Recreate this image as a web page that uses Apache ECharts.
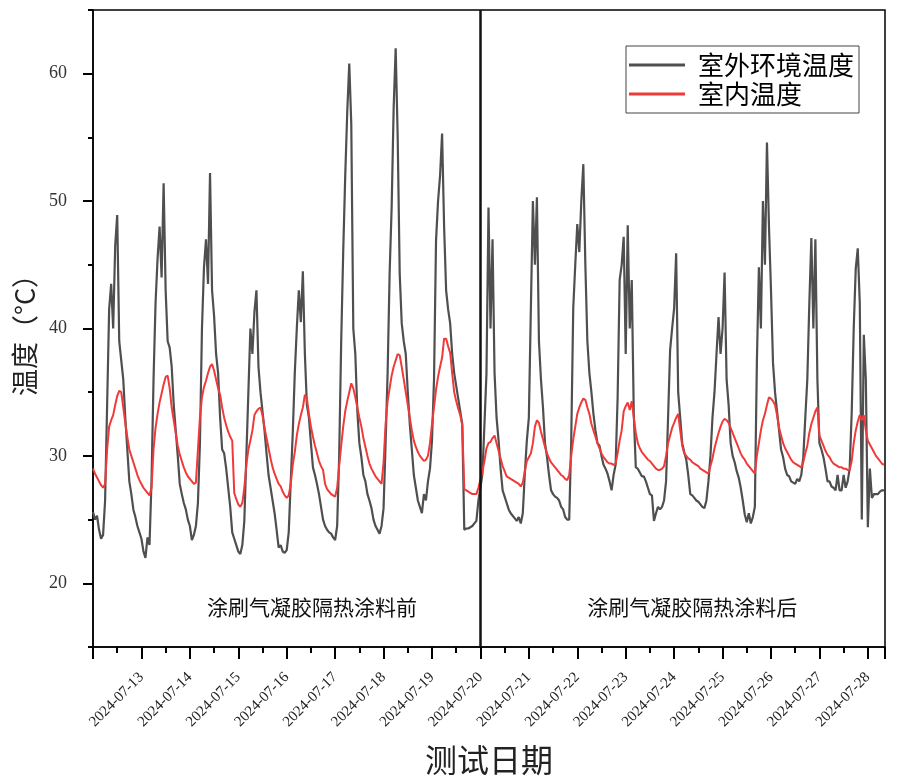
<!DOCTYPE html>
<html><head><meta charset="utf-8">
<script src="https://cdn.jsdelivr.net/npm/echarts@6/dist/echarts.min.js"></script>
<style>html,body{margin:0;padding:0;background:#fff}#c{width:912px;height:783px}</style>
</head><body><div id="c"></div>
<script>
// hourly readings starting 2024-07-12 00:00
const startDate = '2024-07-12T00:00:00Z';
const endDate = '2024-07-28T08:30:00Z';
const splitDate = '2024-07-20T00:00:00Z';
const seriesNames = ['室外环境温度', '室内温度'];
const yTicks = [20, 30, 40, 50, 60];
const outdoor = [
 25.6,25.0,25.3,24.2,23.5,23.8,26.5,34,41.5,43.5,40,46.5,48.9,39,37.5,36,33,30.5,28,27,25.8,25.2,24.5,24.0,
 23.5,22.5,22.0,23.6,23.0,28,36,42,45.5,48,44,51.4,43,39,38.5,37,34,32,30,27.8,27.0,26.3,25.8,25.0,
 24.5,23.4,23.8,24.5,26.3,31,40,44.8,47,43.5,52.2,43,41,38,36.5,33,30.5,30.2,29,27.5,26,24,23.5,23,
 22.5,22.3,23.0,24.9,30,35,40,38,41.3,43,37,35,33.5,32,30.2,28.5,27.5,26.5,25.5,24.2,22.8,23.0,22.5,22.4,
 22.6,24.0,28,31.8,36.5,40,43,40.5,44.5,38,34,33,31,29.1,28.5,27.8,27,26,25,24.5,24.2,24,23.9,23.6,
 23.4,24.5,30,39,46,52,57,60.8,56,40,38,33.5,31,29.9,28.5,28,27,26.5,25.9,25,24.5,24.2,23.9,24.5,
 25.9,31,36.5,44.3,49.5,57.3,62.0,55,44.3,40.4,39,38,35,32.5,30.5,28.5,27.5,26.5,26,25.5,27,26.5,28,29,
 31.2,36,46.9,50,52,55.3,48,43,41.5,40.4,38,36.5,35.5,34.5,33.5,32.5,24.2,24.3,24.3,24.4,24.5,24.7,24.9,26.5,
 27.5,28.6,32.5,36.5,49.5,40,47,36.5,33,31.2,29,27.3,26.8,26.3,25.8,25.5,25.3,25.1,24.9,25.2,24.7,25.5,28.6,31.2,
 33,41.6,50,45,50.3,39,36,33.8,31,29.9,28.5,27.3,27,26.8,26.7,26.5,26,25.8,25.2,25.0,25.0,31.2,41.6,45,
 48.2,46,50,52.9,45,39,36.5,35,33.3,32,31,30.8,30,29.3,29,28.6,28,27.3,28.5,29.3,34.6,43.8,45,47.2,
 38,48.1,40,43.8,33.3,29.1,29,28.7,28.4,28.4,28,27.5,27,26.9,24.9,25.5,26,25.8,26,26.5,28,33,38.3,40,
 41.6,45.9,35,33,31,30.3,29.7,28.5,27,26.9,26.7,26.5,26.4,26.2,26,25.9,26.5,28,30,33,35,38,40.9,38,
 40,44.4,36,34,31,30,29.5,28.8,28.3,27.5,26.5,25.4,24.8,25.5,24.7,25.2,26,37.3,44.8,40,50,45,54.6,48,
 43,37.3,35,33.5,32,30.5,29.9,29,28.5,28.4,28,27.9,27.8,28.2,28,28.5,29.9,33,36,42,47.1,40,47,36,
 31,30.5,29.9,29,28,28,27.6,27.5,27.3,28.5,27.3,27.3,28.5,27.5,28,29,33.4,40,44.7,46.3,42,25,39.5,36,
 24.4,29,26.7,27,27,27,27.2,27.3,27.3
];
const indoor = [
 29.0,28.6,28.3,28.0,27.7,27.5,27.8,30.5,32.3,32.8,33.2,34,34.7,35.1,35.0,33.8,32.6,31.5,30.5,30.0,29.5,29.0,28.5,28.1,
 27.8,27.5,27.3,27.1,26.9,27.5,30.5,32.2,33.3,34.2,34.9,35.6,36.2,36.3,35.3,33.8,32.8,31.8,30.8,30.1,29.6,29.1,28.7,28.4,
 28.2,28.0,27.8,27.9,30.5,33,34.6,35.4,35.9,36.5,37.0,37.2,36.7,36.0,35.3,34.8,33.8,33.0,32.4,31.9,31.5,31.2,27.1,26.6,
 26.2,26.0,26.3,27.5,29.3,30.5,31.2,32.0,33.2,33.5,33.7,33.8,33.2,32.2,31.4,30.6,29.8,29.1,28.6,28.2,27.8,27.6,27.2,26.9,
 26.7,26.9,27.8,29.3,30.3,31.6,32.5,33.2,33.8,34.8,34.5,33.3,32.3,31.5,30.8,30.2,29.6,29.2,28.9,27.8,27.4,27.2,27.0,26.9,
 26.8,27.5,29.2,30.8,32.3,33.5,34.3,35.0,35.7,35.3,34.6,33.8,33.0,32.3,31.4,30.7,30.0,29.4,29.0,28.7,28.4,28.2,28.0,27.8,
 29.5,32.5,34.3,35.3,36.3,37.0,37.5,38.0,37.9,37.0,36.0,35.0,34.0,33.0,32.0,31.2,30.7,30.3,30.0,29.8,29.6,29.7,30.0,31.0,
 32.5,33.8,35.2,36.2,37.0,37.7,39.2,39.2,38.6,38.1,36.5,35.0,34.3,33.7,33.2,32.4,27.4,27.3,27.2,27.1,27.0,27.0,27.0,27.5,
 28.1,28.8,29.6,30.6,31.0,31.1,31.4,31.6,31.0,30.4,29.8,29.2,28.8,28.4,28.3,28.2,28.1,28.0,27.9,27.8,27.6,27.9,28.8,29.6,
 29.9,30.2,31.0,32.3,32.8,32.6,31.9,31.3,30.7,30.2,29.8,29.5,29.3,29.1,28.9,28.7,28.5,28.4,28.2,28.1,28.5,30.0,31.3,32.3,
 33.3,33.8,34.2,34.5,34.4,33.8,33.3,32.5,32.0,31.5,31.0,30.6,30.2,29.9,29.7,29.5,29.4,29.4,29.3,29.4,30.2,31.2,32.0,33.5,
 33.9,34.2,33.6,34.3,33.0,31.8,31.0,30.6,30.3,30.1,29.9,29.7,29.6,29.4,29.2,29.0,28.9,28.9,29.0,29.2,30.0,31.0,31.6,32.2,
 32.6,33.0,33.3,32.0,30.8,30.2,30.0,29.8,29.7,29.5,29.4,29.3,29.2,29.0,28.9,28.8,28.7,28.6,29.2,29.8,30.6,31.2,31.8,32.3,
 32.7,32.9,32.8,32.6,32.2,31.8,31.4,31.0,30.6,30.2,29.9,29.7,29.4,29.2,29.0,28.8,28.6,30.0,31.0,32.0,32.8,33.3,34.0,34.6,
 34.5,34.3,34.0,33.2,32.2,31.6,31.0,30.6,30.3,30.0,29.7,29.5,29.4,29.3,29.2,29.1,29.5,30.2,30.8,31.8,32.5,33.0,33.5,33.8,
 31.6,31.2,30.8,30.4,30.1,29.9,29.6,29.4,29.3,29.2,29.1,29.1,29.0,29.0,28.9,28.9,29.6,31.0,32.0,32.7,33.2,32.8,33.2,32.0,
 31.2,30.9,30.6,30.3,30.0,29.8,29.6,29.4,29.3
];
const notes = ['涂刷气凝胶隔热涂料前', '涂刷气凝胶隔热涂料后'];
const notePos = [['2024-07-16T12:30:00Z', 18.1], ['2024-07-24T09:00:00Z', 18.1]];

const HOUR = 3600000, DAY = 86400000;
const t0 = Date.parse(startDate);
const toPairs = arr => arr.map((v, i) => [t0 + i * HOUR, v]);
const pad = n => (n < 10 ? '0' : '') + n;
const fmtDate = v => { const d = new Date(v); return d.getUTCFullYear() + '-' + pad(d.getUTCMonth() + 1) + '-' + pad(d.getUTCDate()); };

const SERIF = '"Liberation Serif","Noto Sans CJK SC",serif';
const CJK = '"Noto Sans CJK SC","Liberation Serif",sans-serif';
const chart = echarts.init(document.getElementById('c'), null, {renderer: 'canvas'});
const xMin = t0, xMax = Date.parse(endDate);
chart.setOption({
  animation: false,
  backgroundColor: '#fff',
  grid: {left: 93, right: 27, top: 10, bottom: 136, show: true, borderColor: '#000', borderWidth: 1.5, backgroundColor: 'transparent'},
  legend: {
    orient: 'vertical', left: 626, top: 46, padding: [6, 5, 6, 3], itemGap: 3,
    icon: 'rect', itemWidth: 56, itemHeight: 3, backgroundColor: '#fff', borderColor: '#444', borderWidth: 1,
    textStyle: {fontFamily: CJK, fontSize: 26, color: '#000', padding: [0, 0, 0, 8]},
    data: seriesNames
  },
  xAxis: {
    type: 'value', min: xMin, max: xMax, interval: DAY,
    name: '测试日期', nameLocation: 'middle', nameGap: 97,
    nameTextStyle: {fontFamily: CJK, fontSize: 32, color: '#222'},
    axisLine: {lineStyle: {color: '#000', width: 1.5}},
    axisTick: {show: true, length: 12, lineStyle: {color: '#000', width: 2}},
    minorTick: {show: true, splitNumber: 2, length: 6, lineStyle: {color: '#000', width: 2}},
    splitLine: {show: false},
    axisLabel: {rotate: 45, fontFamily: SERIF, fontSize: 15, color: '#222', margin: 28,
      formatter: v => (v === xMin || v >= xMax) ? '' : fmtDate(v)}
  },
  yAxis: [{
    type: 'value', min: 15, max: 65, interval: 5,
    name: '温度（°C）', nameLocation: 'middle', nameGap: 46,
    nameTextStyle: {fontFamily: CJK, fontSize: 27, color: '#222'},
    axisLine: {show: true, lineStyle: {color: '#000', width: 1.5}},
    axisTick: {show: true, length: 5, lineStyle: {color: '#000', width: 2}},
    splitLine: {show: false},
    axisLabel: {fontFamily: SERIF, fontSize: 18, color: '#333', margin: 26,
      formatter: v => yTicks.indexOf(v) >= 0 ? String(v) : ''}
  }, {
    type: 'value', min: 15, max: 65, position: 'left',
    axisLine: {show: false}, splitLine: {show: false},
    axisTick: {show: true, length: 10, customValues: yTicks, lineStyle: {color: '#000', width: 2}},
    axisLabel: {show: false}
  }],
  series: [{
    name: seriesNames[0], type: 'line', data: toPairs(outdoor), showSymbol: false, symbol: 'none',
    lineStyle: {color: '#4f4f4f', width: 2.2}, itemStyle: {color: '#4f4f4f'}, z: 2,
    markLine: {silent: true, symbol: 'none', label: {show: false},
      lineStyle: {color: '#111', width: 2.5, type: 'solid'},
      data: [{xAxis: Date.parse(splitDate)}]}
  }, {
    name: seriesNames[1], type: 'line', data: toPairs(indoor), showSymbol: false, symbol: 'none',
    lineStyle: {color: '#f03a3a', width: 2}, itemStyle: {color: '#f03a3a'}, z: 3
  }]
});
const np = notePos.map(p => chart.convertToPixel({xAxisIndex: 0, yAxisIndex: 0}, [Date.parse(p[0]), p[1]]));
chart.setOption({graphic: notes.map((t, i) => ({
  type: 'text', x: np[i][0], y: np[i][1],
  style: {text: t, font: '21px ' + CJK, fill: '#111', textAlign: 'center', textVerticalAlign: 'middle'}
}))});
</script></body></html>
